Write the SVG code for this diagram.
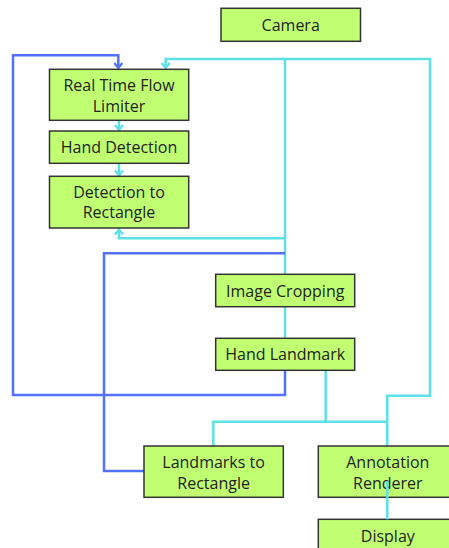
<svg xmlns="http://www.w3.org/2000/svg" width="449" height="548" viewBox="0 0 449 548">
<style>
.box{fill:#c1ff72;stroke:#333;stroke-width:1.5}
.t{font-family:"Open Sans","Liberation Sans",sans-serif;font-size:16px;fill:#222;text-anchor:middle}
.c{fill:none;stroke:#5ce1e6;stroke-width:2.5}
.b{fill:none;stroke:#5271ff;stroke-width:2.5}
</style>
<defs>
<marker id="ac" viewBox="0 0 10 10" refX="8" refY="5" markerWidth="10" markerHeight="10" markerUnits="userSpaceOnUse" orient="auto"><path d="M3,1 L8,5 L3,9" fill="none" stroke="#5ce1e6" stroke-width="2.2"/></marker>
<marker id="ab" viewBox="0 0 10 10" refX="8" refY="5" markerWidth="10" markerHeight="10" markerUnits="userSpaceOnUse" orient="auto"><path d="M3,1 L8,5 L3,9" fill="none" stroke="#5271ff" stroke-width="2.2"/></marker>
</defs>
<g id="connectors">
<path class="c" d="M285,274 V59 H430 V395.7 H387.3 V446"/>
<path class="c" d="M285,59 H165.7 V68" marker-end="url(#ac)"/>
<path class="c" d="M285,238.3 H119 V229.5" marker-end="url(#ac)"/>
<path class="c" d="M119,120.5 V130" marker-end="url(#ac)"/>
<path class="c" d="M119,163.5 V175.5" marker-end="url(#ac)"/>
<path class="c" d="M285,306.7 V338.3"/>
<path class="c" d="M325.7,370.3 V421.7"/>
<path class="c" d="M213.3,446 V421.7 H387.3"/>
<path class="b" d="M285,370.3 V395 H13 V55.3 H118.3 V68" marker-end="url(#ab)"/>
<path class="b" d="M285,253.3 H104 V471 H144"/>
</g>
<g id="camera"><rect class="box" x="221" y="8.3" width="139.5" height="33"/><text class="t" x="290.7" y="30.8">Camera</text></g>
<g id="rtfl"><rect class="box" x="49.5" y="69.3" width="139.2" height="51"/><text class="t" x="119" y="90.8">Real Time Flow</text><text class="t" x="119" y="111.6">Limiter</text></g>
<g id="handdet"><rect class="box" x="49.5" y="131" width="139.2" height="32.3"/><text class="t" x="119" y="153">Hand Detection</text></g>
<g id="det2rect"><rect class="box" x="49.5" y="176.3" width="139.2" height="51.7"/><text class="t" x="119" y="197.7">Detection to</text><text class="t" x="119" y="218.3">Rectangle</text></g>
<g id="crop"><rect class="box" x="215.7" y="274.3" width="139" height="32.4"/><text class="t" x="285.2" y="296.7">Image Cropping</text></g>
<g id="landmark"><rect class="box" x="215.7" y="338.3" width="139" height="32"/><text class="t" x="285.2" y="360.3">Hand Landmark</text></g>
<g id="lm2rect"><rect class="box" x="144" y="446" width="139.3" height="51.3"/><text class="t" x="213.6" y="467.7">Landmarks to</text><text class="t" x="213.6" y="488.7">Rectangle</text></g>
<g id="annot"><rect class="box" x="318.3" y="446" width="139" height="51.3"/><text class="t" x="387.8" y="467.7">Annotation</text><text class="t" x="387.8" y="488.7">Renderer</text></g>
<g id="display"><rect class="box" x="318.3" y="519.3" width="139" height="40"/><text class="t" x="387.8" y="542">Display</text></g>
<path class="c" d="M387.3,481 V519.3"/>
</svg>
